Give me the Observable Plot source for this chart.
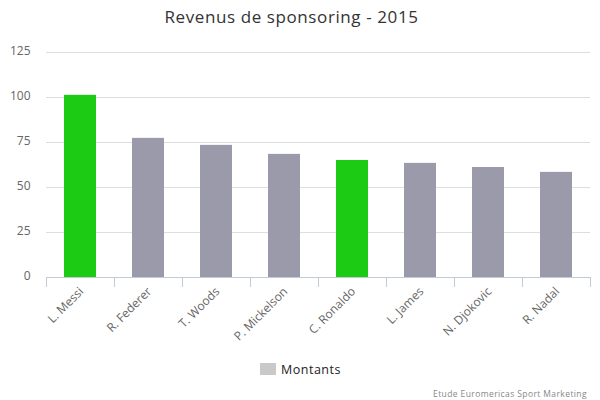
<!DOCTYPE html>
<html>
<head>
<meta charset="utf-8">
<script src="https://cdn.jsdelivr.net/npm/d3@7"></script>
<script src="https://cdn.jsdelivr.net/npm/@observablehq/plot@0.6"></script>
<style>
  html, body { margin: 0; padding: 0; background: #fff; width: 600px; height: 400px; overflow: hidden; font-family: "Open Sans", sans-serif; }
  #title { height: 36px; line-height: 34px; text-align: center; font-size: 17px; color: #333; letter-spacing: 0.6px; padding-right: 17px; }
  #chart svg { display: block; }
  #legend { height: 26px; display: flex; justify-content: center; align-items: center; font-size: 12.5px; color: #222; gap: 5px; letter-spacing: 0.5px; padding-left: 1px; }
  #legend i { display: block; width: 16px; height: 12px; background: #c9c9c9; }
  #caption { text-align: right; padding-right: 13px; font-size: 8.5px; color: #888; margin-top: 6px; letter-spacing: 0.4px; }
</style>
</head>
<body>
<div id="title">Revenus de sponsoring - 2015</div>
<div id="chart"></div>
<div id="legend"><i></i><span>Montants</span></div>
<div id="caption">Etude Euromericas Sport Marketing</div>
<script>
const names = ["L. Messi", "R. Federer", "T. Woods", "P. Mickelson", "C. Ronaldo", "L. James", "N. Djokovic", "R. Nadal"];
const amounts = [101.2, 77.3, 73.4, 68.4, 65, 63.4, 61.1, 58.4];
const colors = ["#1ccc14", "#9a9aaa", "#9a9aaa", "#9a9aaa", "#1ccc14", "#9a9aaa", "#9a9aaa", "#9a9aaa"];
const yTicks = [0, 25, 50, 75, 100, 125];
const gridTicks = [25, 50, 75, 100, 125];

const rows = names.map((name, i) => ({name, amount: amounts[i], color: colors[i]}));
const halfBand = 34;

const plot = Plot.plot({
  width: 600,
  height: 320,
  marginTop: 16,
  marginBottom: 79,
  marginLeft: 46,
  marginRight: 10,
  style: {fontFamily: "Open Sans, sans-serif", background: "#fff"},
  x: {domain: names, paddingInner: 0.53, paddingOuter: 0.265, align: 0.5, label: null, axis: null},
  y: {domain: [0, 125], label: null, axis: null},
  marks: [
    Plot.ruleY(gridTicks, {stroke: "#dcdde2", strokeWidth: 1}),
    Plot.barY(rows, {x: "name", y: "amount", fill: "color"}),
    Plot.ruleY([0], {stroke: "#c3cad8", strokeWidth: 1}),
    Plot.axisY({ticks: yTicks, tickSize: 0, tickPadding: 16, dy: -1, fontSize: 12, color: "#666", label: null}),
    Plot.axisX({tickSize: 10, tickFormat: null, dx: -halfBand, stroke: "#c3cad8", label: null}),
    Plot.axisX([names[names.length - 1]], {tickSize: 10, tickFormat: null, dx: halfBand, stroke: "#c3cad8", label: null}),
    Plot.axisX({tickSize: 0, tickRotate: -45, tickPadding: 12, dx: 1, fontSize: 12, color: "#666", label: null, style: {letterSpacing: "0.3px"}})
  ]
});
document.getElementById("chart").append(plot);
</script>
</body>
</html>
